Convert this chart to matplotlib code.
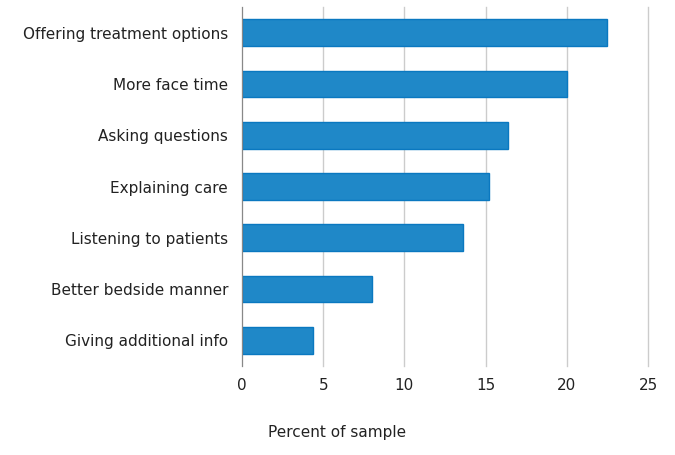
import matplotlib.pyplot as plt
import numpy as np

categories = ['Offering treatment options', 'More face time', 'Asking questions',
              'Explaining care', 'Listening to patients', 'Better bedside manner',
              'Giving additional info']
values = [22.5, 20.0, 16.4, 15.2, 13.6, 8.0, 4.4]
xticks = [0, 5, 10, 15, 20, 25]

plt.rcParams['font.family'] = ['DejaVu Sans']

fig = plt.figure(figsize=(6.75, 4.55), dpi=100)
ax = fig.add_axes([242/675, 1 - 366/455, 406/675, 359/455])

y = np.arange(len(categories))
ax.barh(y, values, height=0.52, color='#1f88c8', edgecolor='#0a78c0', linewidth=1, zorder=3)

ax.set_ylim(len(categories) - 0.5, -0.5)
ax.set_xlim(0, 25)
ax.set_yticks(y)
ax.set_yticklabels(categories, fontsize=11, color='#222222')
ax.set_xticks(xticks)
ax.set_xticklabels([str(t) for t in xticks], fontsize=11, color='#222222')
ax.tick_params(length=0)
ax.tick_params(axis='y', pad=10)
ax.tick_params(axis='x', pad=9)

ax.grid(axis='x', color='#cccccc', linewidth=1, zorder=0)
for gl in ax.xaxis.get_gridlines():
    gl.set_clip_on(False)
for s in ['top', 'right', 'bottom']:
    ax.spines[s].set_visible(False)
ax.spines['left'].set_color('#888888')
ax.spines['left'].set_zorder(4)

fig.text(0.5, 1 - 432/455, 'Percent of sample', ha='center', va='center', fontsize=11, color='#222222')

plt.savefig('out.png')
